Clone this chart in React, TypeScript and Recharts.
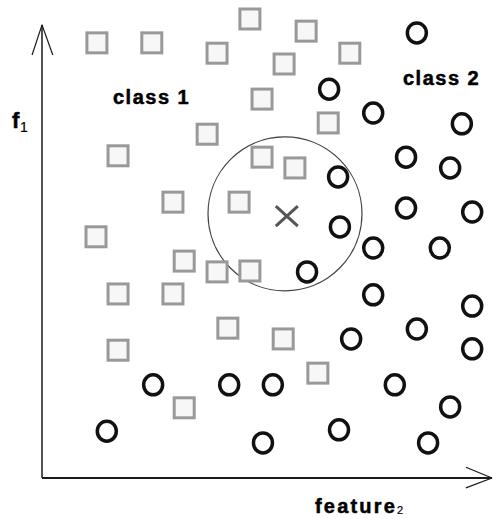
import { ScatterChart, Scatter, XAxis, YAxis, ReferenceDot, ReferenceLine, Customized } from "recharts";

// class 1 samples (squares): [feature2, f1]
const class1X = [12.2, 24.4, 46.2, 58.7, 38.9, 68.4, 53.8, 48.9, 36.7, 16.9, 63.6, 48.9, 56.2, 29.1, 43.8, 12.0, 31.6, 38.9, 46.2, 16.9, 29.1, 41.3, 53.6, 16.9, 61.3, 31.6];
const class1Y = [96.7, 96.7, 102.0, 99.3, 94.4, 94.4, 92.0, 84.2, 76.4, 71.6, 78.9, 71.3, 68.9, 61.3, 61.3, 53.6, 48.2, 45.8, 46.0, 40.9, 40.9, 33.3, 30.9, 28.4, 23.3, 15.6];

// class 2 samples (circles)
const class2X = [83.3, 63.8, 73.6, 93.3, 80.9, 90.7, 65.8, 80.9, 95.6, 66.2, 73.6, 88.4, 58.9, 73.6, 95.6, 83.3, 68.7, 95.6, 24.7, 41.6, 51.3, 78.4, 90.7, 14.4, 66.0, 49.1, 85.8];
const class2Y = [98.9, 86.4, 81.1, 78.7, 71.3, 68.9, 66.9, 60.0, 59.1, 55.8, 51.1, 51.1, 45.8, 40.7, 38.2, 33.1, 30.9, 28.7, 20.7, 20.7, 20.7, 20.7, 15.8, 10.4, 10.7, 7.8, 7.8];

// query point and its neighbourhood
const queryPoint = { x: 54.4, y: 58.2 };
const neighbourhoodCenter = { x: 54.0, y: 58.7 };

const class1 = class1X.map((x, i) => ({ x, y: class1Y[i] }));
const class2 = class2X.map((x, i) => ({ x, y: class2Y[i] }));

const FONT = "'Liberation Sans', Arial, sans-serif";
const AXIS = "#1a1a1a";

const SquareMark = (props: any) => {
  const { cx, cy } = props;
  return <rect x={cx - 10} y={cy - 10} width={20} height={20} fill="#f7f7f7" stroke="#999" strokeWidth={3} />;
};

const CircleMark = (props: any) => {
  const { cx, cy } = props;
  return <ellipse cx={cx} cy={cy} rx={9.5} ry={10} fill="#fff" stroke="#111" strokeWidth={3.5} />;
};

const CrossMark = (props: any) => {
  const { cx, cy } = props;
  return (
    <g stroke="#555" strokeWidth={3}>
      <line x1={cx - 11} y1={cy - 10} x2={cx + 11} y2={cy + 10} />
      <line x1={cx - 11} y1={cy + 10} x2={cx + 11} y2={cy - 10} />
    </g>
  );
};

const Labels = () => (
  <g fontFamily={FONT} fontWeight="bold" fill="#000" stroke="#000" strokeWidth={0.5}>
    <text x={113} y={104} fontSize={20} letterSpacing={1.5}>class 1</text>
    <text x={403} y={85} fontSize={20} letterSpacing={1.5}>class 2</text>
    <text x={12} y={128} fontSize={22}>f</text>
    <text x={20} y={132} fontSize={14} fontWeight="normal" strokeWidth={0.2}>1</text>
    <text x={315} y={513} fontSize={20} letterSpacing={2.2}>feature</text>
    <text x={397} y={514} fontSize={11} fontWeight="normal" strokeWidth={0.2}>2</text>
  </g>
);

export default function App() {
  return (
    <>
      <style>{"body{margin:0}"}</style>
      <ScatterChart width={493} height={519} margin={{ top: 1, right: 1, bottom: 41, left: 42 }}>
        <XAxis type="number" dataKey="x" domain={[0, 100]} hide />
        <YAxis type="number" dataKey="y" domain={[0, 106]} hide />
        {/* axes with open arrowheads */}
        <ReferenceLine segment={[{ x: 0, y: 0 }, { x: 0, y: 100.7 }]} stroke={AXIS} strokeWidth={1.5} ifOverflow="visible" />
        <ReferenceLine segment={[{ x: -2.2, y: 94.0 }, { x: 0, y: 100.7 }]} stroke={AXIS} strokeWidth={1.2} ifOverflow="visible" />
        <ReferenceLine segment={[{ x: 2.4, y: 94.0 }, { x: 0, y: 100.7 }]} stroke={AXIS} strokeWidth={1.2} ifOverflow="visible" />
        <ReferenceLine segment={[{ x: 0, y: 0 }, { x: 100, y: 0 }]} stroke={AXIS} strokeWidth={2} ifOverflow="visible" />
        <ReferenceLine segment={[{ x: 94.2, y: 2.4 }, { x: 100, y: 0 }]} stroke={AXIS} strokeWidth={1.2} ifOverflow="visible" />
        <ReferenceLine segment={[{ x: 94.2, y: -2.2 }, { x: 100, y: 0 }]} stroke={AXIS} strokeWidth={1.2} ifOverflow="visible" />
        <ReferenceDot x={neighbourhoodCenter.x} y={neighbourhoodCenter.y} r={77} fill="none" stroke="#444" strokeWidth={1.2} ifOverflow="visible" />
        <Scatter data={class1} shape={<SquareMark />} isAnimationActive={false} />
        <Scatter data={class2} shape={<CircleMark />} isAnimationActive={false} />
        <Scatter data={[queryPoint]} shape={<CrossMark />} isAnimationActive={false} />
        <Customized component={<Labels />} />
      </ScatterChart>
    </>
  );
}
